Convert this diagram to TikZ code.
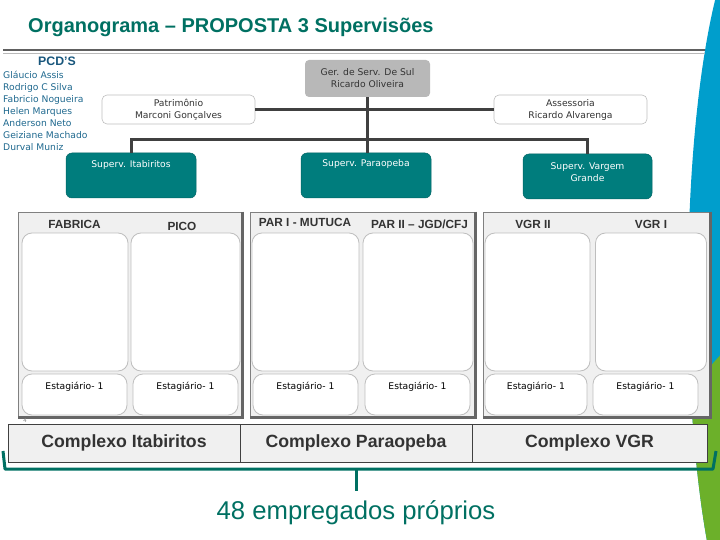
\documentclass[tikz,border=0pt]{standalone}
\usepackage{fontspec}
\setmainfont{Liberation Sans}
\newfontfamily\tahomalike{DejaVu Sans}
\usepackage{xcolor}
\usetikzlibrary{positioning}

\definecolor{titleteal}{RGB}{0,112,98}
\definecolor{boxteal}{RGB}{0,125,125}
\definecolor{namesblue}{RGB}{30,104,142}
\definecolor{pcdblue}{RGB}{24,86,124}
\definecolor{gerfill}{RGB}{184,184,184}
\definecolor{linegray}{RGB}{64,64,64}
\definecolor{textgray}{RGB}{51,51,51}
\definecolor{panelbg}{RGB}{240,240,240}
\definecolor{slotline}{RGB}{190,190,190}
\definecolor{arcblue}{RGB}{0,158,204}
\definecolor{arcgreen}{RGB}{108,176,42}

\newcommand{\smalltxt}{\tahomalike\fontsize{9.2}{12}\selectfont}
\newcommand{\headtxt}{\fontsize{11.8}{14}\selectfont\bfseries}

\tikzstyle{gerbox}    = [rectangle, rounded corners=4pt, fill=gerfill, minimum width=125pt, minimum height=37pt,
                         text=textgray, align=center, font=\smalltxt]
\tikzstyle{staffbox}  = [rectangle, rounded corners=5pt, fill=white, draw=slotline, line width=0.6pt,
                         minimum width=153pt, minimum height=29pt, text=textgray, align=center, font=\smalltxt]
\tikzstyle{supervbox} = [rectangle, rounded corners=6pt, fill=boxteal, draw=boxteal!80!black, line width=0.5pt,
                         minimum width=130pt, minimum height=45pt]
\tikzstyle{supervtxt} = [text=white, align=center, font=\smalltxt, inner sep=0pt]
\tikzstyle{panel}     = [rectangle, fill=panelbg, draw=gray, line width=0.8pt, minimum height=205pt]
\tikzstyle{slot}      = [rectangle, rounded corners=10pt, fill=white, draw=slotline, line width=0.8pt]
\tikzstyle{headtext}  = [text=textgray, font=\headtxt, inner sep=0pt]
\tikzstyle{interntxt} = [text=black, font=\smalltxt, inner sep=0pt]
\tikzstyle{complexo}  = [rectangle, fill=panelbg, draw=linegray, line width=0.8pt, minimum height=38pt,
                         text=textgray, font=\fontsize{17.7}{20}\selectfont\bfseries]
\tikzstyle{conn}      = [draw=linegray, line width=3pt]
\tikzstyle{bevel}     = [draw=gray!80!black, line width=2.5pt]
\tikzstyle{bracestroke} = [draw=titleteal, line width=3pt, line join=round]

\begin{document}
\begin{tikzpicture}[x=1pt, y=-1pt]
    \useasboundingbox (0,0) rectangle (720,540);

    % Arc on the right edge
    \begin{scope}
        \clip (0,0) rectangle (720,540);
        \fill[arcblue] (760,290) ellipse [x radius=72pt, y radius=371pt];
        \clip (760,290) ellipse [x radius=72pt, y radius=371pt];
        \fill[arcgreen] (670,415) .. controls (695,385) and (710,365) .. (730,345) -- (730,545) -- (670,545) -- cycle;
    \end{scope}

    % Title and rule
    \node (title) [anchor=base west, inner sep=0pt, text=titleteal, font=\fontsize{20}{24}\selectfont\bfseries]
        at (28,33) {Organograma – PROPOSTA 3 Supervisões};
    \draw[line width=2pt, gray!75!black] (3,50) -- (705,50);
    \draw[line width=0.8pt, gray!55] (3,53.5) -- (705,53.5);

    % PCD'S list
    \node (pcd) [anchor=base west, inner sep=0pt, text=pcdblue, font=\fontsize{12.3}{14}\selectfont\bfseries]
        at (38,66) {PCD’S};
    \node (pcdnames) [anchor=north west, inner sep=0pt, align=left, text=namesblue, font=\smalltxt] at (3,70.5)
        {Gláucio Assis\\Rodrigo C Silva\\Fabricio Nogueira\\Helen Marques\\Anderson Neto\\Geiziane Machado\\Durval Muniz};

    % Management
    \node (ger) [gerbox] at (367.5,78.5) {Ger. de Serv. De Sul\\Ricardo Oliveira};
    \node (pat) [staffbox] at (178.5,109.5) {Patrimônio\\Marconi Gonçalves};
    \node (ass) [staffbox] at (570.5,109.5) {Assessoria\\Ricardo Alvarenga};

    % Supervisions
    \node (itab) [supervbox] at (131,175.5) {};
    \node (parao) [supervbox] at (366,175.5) {};
    \node (vgr) [supervbox, minimum width=129pt] at (587.5,176.5) {};
    \node (itabtxt) [supervtxt, below=8pt of itab.north] {Superv. Itabiritos};
    \node (paraotxt) [supervtxt, below=7pt of parao.north] {Superv. Paraopeba};
    \node (vgrtxt) [supervtxt, below=9pt of vgr.north] {Superv. Vargem\\Grande};

    % Connectors
    \coordinate (bus) at (0,140);
    \draw[conn] (pat.east) -- (ass.west);
    \draw[conn] (ger.south) -- (ger.south |- parao.north);
    \draw[conn] (itab.north) -- (itab.north |- bus) -- (vgr.north |- bus) -- (vgr.north);

    % Itabiritos panel
    \node (panA) [panel, minimum width=224pt] at (130,314.5) {};
    \node (slotA1) [slot, minimum width=106pt, minimum height=138pt] at (75,302) {};
    \node (slotA2) [slot, minimum width=109pt, minimum height=138pt] at (185.5,302) {};
    \node (slotA3) [slot, minimum width=105pt, minimum height=41pt] at (74.5,394.5) {};
    \node (slotA4) [slot, minimum width=105pt, minimum height=41pt] at (185.5,394.5) {};
    \draw[bevel] (panA.north east) -- (panA.south east) -- (panA.south west);
    \node (fabrica) [headtext] at (74.5,224) {FABRICA};
    \node (pico) [headtext] at (182,226) {PICO};
    \node (estA1) [interntxt, below=8pt of slotA3.north] {Estagiário- 1};
    \node (estA2) [interntxt, below=8pt of slotA4.north] {Estagiário- 1};

    % Paraopeba panel
    \node (panB) [panel, minimum width=225pt] at (362.5,314.5) {};
    \node (slotB1) [slot, minimum width=107pt, minimum height=138pt] at (305.5,302) {};
    \node (slotB2) [slot, minimum width=110pt, minimum height=138pt] at (418,302) {};
    \node (slotB3) [slot, minimum width=105pt, minimum height=41pt] at (305.5,394.5) {};
    \node (slotB4) [slot, minimum width=105pt, minimum height=41pt] at (417.5,394.5) {};
    \draw[bevel] (panB.north east) -- (panB.south east) -- (panB.south west);
    \node (mutuca) [headtext] at (305,222) {PAR I - MUTUCA};
    \node (jgd) [headtext] at (419.5,224) {PAR II – JGD/CFJ};
    \node (estB1) [interntxt, below=8pt of slotB3.north] {Estagiário- 1};
    \node (estB2) [interntxt, below=8pt of slotB4.north] {Estagiário- 1};

    % VGR panel
    \node (panC) [panel, minimum width=227pt] at (596.5,314.5) {};
    \node (slotC1) [slot, minimum width=105pt, minimum height=138pt] at (537.5,302) {};
    \node (slotC2) [slot, minimum width=111pt, minimum height=138pt] at (651,302) {};
    \node (slotC3) [slot, minimum width=102pt, minimum height=41pt] at (536,394.5) {};
    \node (slotC4) [slot, minimum width=105pt, minimum height=41pt] at (645.5,394.5) {};
    \draw[bevel] (panC.north east) -- (panC.south east) -- (panC.south west);
    \node (vgr2) [headtext] at (533,224) {VGR II};
    \node (vgr1) [headtext] at (651,224) {VGR I};
    \node (estC1) [interntxt, below=8pt of slotC3.north] {Estagiário- 1};
    \node (estC2) [interntxt, below=8pt of slotC4.north] {Estagiário- 1};

    \node (pagenum) [inner sep=0pt, text=gray, font=\fontsize{6}{7}\selectfont] at (25,420) {4};

    % Complexos
    \node (cxA) [complexo, minimum width=232pt] at (124,443) {Complexo Itabiritos};
    \node (cxB) [complexo, minimum width=232pt] at (356,443) {Complexo Paraopeba};
    \node (cxC) [complexo, minimum width=235pt] at (589.5,443) {Complexo VGR};

    % Brace and total
    \coordinate (braceL) at (3,451);
    \coordinate (braceR) at (716,451);
    \coordinate (tip) at (356,491);
    \draw[bracestroke] (braceL) -- (5,469) -- (713,469) -- (braceR);
    \draw[bracestroke] (356,469) -- (tip);
    \node (total) [below=9pt of tip, inner sep=0pt, text=titleteal, font=\fontsize{25.7}{30}\selectfont]
        {48 empregados próprios};
\end{tikzpicture}
\end{document}
